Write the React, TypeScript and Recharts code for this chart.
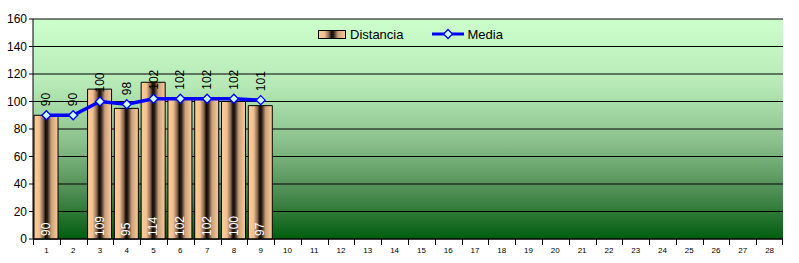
import { ComposedChart, Bar, Line, XAxis, YAxis, CartesianGrid, LabelList } from 'recharts'

const categories = Array.from({ length: 28 }, (_, i) => String(i + 1))
const distancia: (number | null)[] = [90, null, 109, 95, 114, 102, 102, 100, 97]
const media: (number | null)[] = [90, 90, 100, 98, 102, 102, 102, 102, 101]
const yTicks = [0, 20, 40, 60, 80, 100, 120, 140, 160]

const data = categories.map((c, i) => ({
  dia: c,
  distancia: distancia[i] ?? null,
  media: media[i] ?? null,
}))

const W = 799, H = 263
const left = 33, right = 16, top = 19, xh = 24
const axisY = H - xh
const halfBand = (W - left - right) / categories.length / 2

const blue = '#0000FF'

// marcas entre categorías, no en el centro
// eslint-disable-next-line @typescript-eslint/no-explicit-any
const XTick = (p: any) => {
  const { x, payload, index } = p
  const lx = Math.round(x - halfBand) + 0.5
  const rx = Math.round(x + halfBand) - 0.5
  return (
    <g>
      <path d={`M${lx},${axisY} V${axisY + 6}`} stroke="#000" strokeWidth={1} fill="none" />
      {index === categories.length - 1 && (
        <path d={`M${rx},${axisY} V${axisY + 6}`} stroke="#000" strokeWidth={1} fill="none" />
      )}
      <text x={x} y={axisY + 14} textAnchor="middle" fontSize={8} fill="#000" fontFamily="Liberation Sans, Arial">{payload.value}</text>
    </g>
  )
}

// eslint-disable-next-line @typescript-eslint/no-explicit-any
const Diamond = (p: any) => {
  const { cx, cy } = p
  if (cx == null || cy == null || p.value == null) return <g />
  const r = 4.5
  return <polygon points={`${cx},${cy - r} ${cx + r},${cy} ${cx},${cy + r} ${cx - r},${cy}`} fill="#CCFFFF" stroke={blue} strokeWidth={1.3} />
}

// eslint-disable-next-line @typescript-eslint/no-explicit-any
const LineLabel = (p: any) => {
  const { x, y, value } = p
  if (value == null) return null
  const ty = y - 9
  return (
    <text x={x} y={ty} transform={`rotate(-90, ${x}, ${ty})`} textAnchor="start" dominantBaseline="central" fontSize={12} fill="#000" fontFamily="Liberation Sans, Arial">{value}</text>
  )
}

// eslint-disable-next-line @typescript-eslint/no-explicit-any
const BarLabel = (p: any) => {
  const { x, y, width, height, value } = p
  if (value == null) return null
  const cx = x + width / 2, ty = y + height - 3
  return (
    <text x={cx} y={ty} transform={`rotate(-90, ${cx}, ${ty})`} textAnchor="start" dominantBaseline="central" fontSize={12} fill="#fff" fontFamily="Liberation Sans, Arial">{value}</text>
  )
}

export default function App() {
  return (
    <div style={{ position: 'absolute', left: 0, top: 0, width: W, height: H, background: '#fff', fontFamily: 'Liberation Sans, Arial' }}>
      <ComposedChart width={W} height={H} data={data} margin={{ top, right, bottom: 0, left: 0 }}>
        <defs>
          <linearGradient id="bg" x1="0" y1="0" x2="0" y2="1">
            <stop offset="0%" stopColor="#CCFFCC" />
            <stop offset="30%" stopColor="#B6E9B6" />
            <stop offset="55%" stopColor="#8CC28E" />
            <stop offset="80%" stopColor="#4A8A50" />
            <stop offset="100%" stopColor="#005E0E" />
          </linearGradient>
          <linearGradient id="bar" x1="0" y1="0" x2="1" y2="0">
            <stop offset="0%" stopColor="#FFCC99" />
            <stop offset="22%" stopColor="#F2C090" />
            <stop offset="38%" stopColor="#8A6A50" />
            <stop offset="48%" stopColor="#140C08" />
            <stop offset="56%" stopColor="#2A1E16" />
            <stop offset="72%" stopColor="#C8A07A" />
            <stop offset="100%" stopColor="#FFCC99" />
          </linearGradient>
        </defs>
        <CartesianGrid vertical={false} stroke="#000" strokeOpacity={1} fill="url(#bg)" fillOpacity={1} />
        <XAxis dataKey="dia" height={xh} interval={0} tickLine={false} axisLine={{ stroke: '#000' }} tick={<XTick />} />
        <YAxis width={left} domain={[0, 160]} ticks={yTicks} tickSize={4} tickLine={{ stroke: '#000' }} axisLine={{ stroke: '#000' }}
          tick={{ fontSize: 12, fill: '#000', fontFamily: 'Liberation Sans, Arial' }} tickMargin={2} />
        <Bar dataKey="distancia" barSize={24} fill="url(#bar)" stroke="#000" strokeWidth={1} isAnimationActive={false}>
          <LabelList dataKey="distancia" content={<BarLabel />} />
        </Bar>
        <Line dataKey="media" stroke={blue} strokeWidth={3.5} dot={<Diamond />} activeDot={false} isAnimationActive={false}>
          <LabelList dataKey="media" content={<LineLabel />} />
        </Line>
      </ComposedChart>
      <div style={{ position: 'absolute', left: 318, top: 26, display: 'flex', alignItems: 'center', fontSize: 13, color: '#000', height: 16 }}>
        <svg width={28} height={9} style={{ marginRight: 4 }}>
          <rect x={0.5} y={0.5} width={27} height={8} fill="url(#bar)" stroke="#000" />
        </svg>
        <span>Distancia</span>
        <svg width={32} height={12} style={{ marginLeft: 29, marginRight: 3 }}>
          <line x1={0} y1={6} x2={32} y2={6} stroke={blue} strokeWidth={3} />
          <polygon points="16,1.5 20.5,6 16,10.5 11.5,6" fill="#CCFFFF" stroke={blue} strokeWidth={1.3} />
        </svg>
        <span>Media</span>
      </div>
    </div>
  )
}
